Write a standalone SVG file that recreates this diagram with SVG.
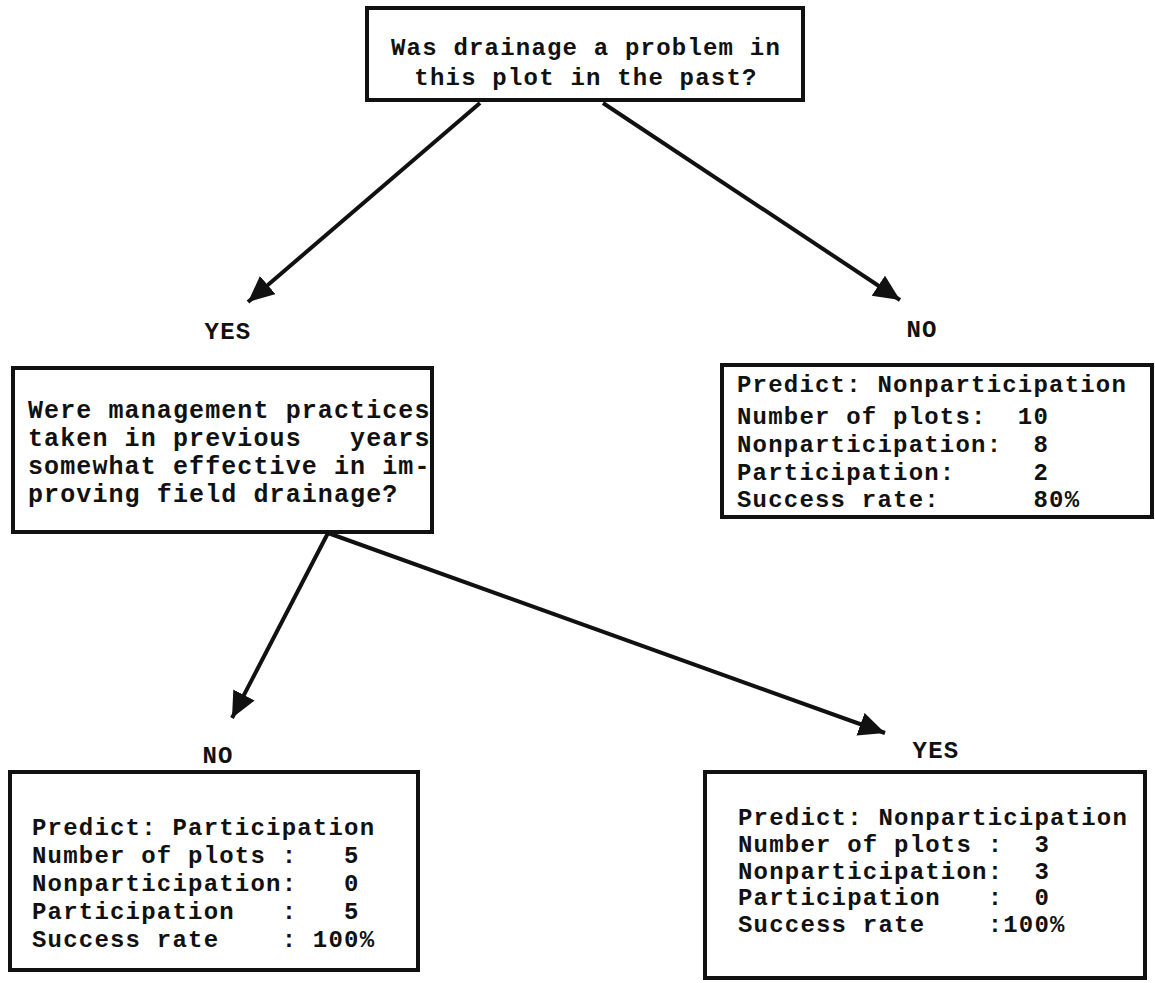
<svg xmlns="http://www.w3.org/2000/svg" width="1155" height="983" viewBox="0 0 1155 983">
<style>
text{font-family:"Liberation Mono","DejaVu Sans Mono",monospace;font-size:24px;letter-spacing:1.2px;font-weight:bold;fill:#111;}
.box{fill:#fff;stroke:#111;stroke-width:4;}
.conn{stroke:#111;stroke-width:4;fill:none;}
.mid{text-anchor:middle;}
.big{font-size:25px;letter-spacing:1.1px;}
</style>
<defs>
<marker id="ah" markerUnits="userSpaceOnUse" markerWidth="30" markerHeight="26" refX="26" refY="12" orient="auto">
<path d="M0,0 L26,12 L0,24 Z" fill="#111"/>
</marker>
</defs>
<rect width="1155" height="983" fill="#fff"/>
<g id="connectors">
<line class="conn" x1="480" y1="103" x2="248" y2="302" marker-end="url(#ah)"/>
<line class="conn" x1="603" y1="103" x2="900" y2="300" marker-end="url(#ah)"/>
<line class="conn" x1="328" y1="533" x2="232" y2="718" marker-end="url(#ah)"/>
<line class="conn" x1="328" y1="533" x2="885" y2="733" marker-end="url(#ah)"/>
</g>
<g id="root">
<rect class="box" x="367" y="8" width="436" height="92"/>
<text class="mid" x="586" y="55">Was drainage a problem in</text>
<text class="mid" x="586" y="85">this plot in the past?</text>
</g>
<g id="label-yes-1"><text class="mid" x="228" y="339">YES</text></g>
<g id="label-no-1"><text class="mid" x="922" y="337">NO</text></g>
<g id="question2">
<rect class="box" x="13" y="368" width="419" height="164"/>
<text class="big" x="28" y="418" xml:space="preserve">Were management practices</text>
<text class="big" x="28" y="446" xml:space="preserve">taken in previous   years</text>
<text class="big" x="28" y="474" xml:space="preserve">somewhat effective in im-</text>
<text class="big" x="28" y="502" xml:space="preserve">proving field drainage?</text>
</g>
<g id="leaf-no-1">
<rect class="box" x="722" y="365" width="430" height="152"/>
<text x="737" y="392" xml:space="preserve">Predict: Nonparticipation</text>
<text x="737" y="424" xml:space="preserve">Number of plots:  10</text>
<text x="737" y="452" xml:space="preserve">Nonparticipation:  8</text>
<text x="737" y="480" xml:space="preserve">Participation:     2</text>
<text x="737" y="507" xml:space="preserve">Success rate:      80%</text>
</g>
<g id="label-no-2"><text class="mid" x="218" y="763">NO</text></g>
<g id="leaf-no-2">
<rect class="box" x="10" y="772" width="408" height="198"/>
<text x="32" y="835" xml:space="preserve">Predict: Participation</text>
<text x="32" y="863" xml:space="preserve">Number of plots :   5</text>
<text x="32" y="891" xml:space="preserve">Nonparticipation:   0</text>
<text x="32" y="919" xml:space="preserve">Participation   :   5</text>
<text x="32" y="947" xml:space="preserve">Success rate    : 100%</text>
</g>
<g id="label-yes-2"><text class="mid" x="936" y="758">YES</text></g>
<g id="leaf-yes-2">
<rect class="box" x="705" y="772" width="440" height="206"/>
<text x="738" y="825" xml:space="preserve">Predict: Nonparticipation</text>
<text x="738" y="852" xml:space="preserve">Number of plots :  3</text>
<text x="738" y="879" xml:space="preserve">Nonparticipation:  3</text>
<text x="738" y="905" xml:space="preserve">Participation   :  0</text>
<text x="738" y="932" xml:space="preserve">Success rate    :100%</text>
</g>
</svg>
